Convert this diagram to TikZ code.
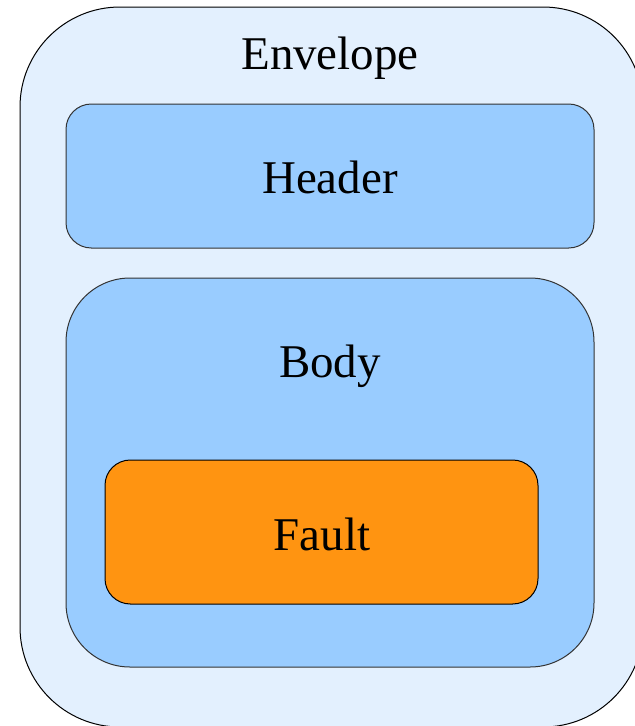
\documentclass[tikz,border=0pt]{standalone}
\usepackage{fontspec}
\setmainfont{Liberation Serif}
\definecolor{envfill}{HTML}{E3F0FE}
\definecolor{partfill}{HTML}{99CCFF}
\definecolor{faultfill}{HTML}{FF9411}
\begin{document}
\begin{tikzpicture}[x=0.75pt,y=-0.75pt,
  box/.style={draw=black,line width=0.75pt},
  lbl/.style={font=\fontsize{35.2}{40}\selectfont,anchor=base,inner sep=0pt}]
\useasboundingbox (0,0) rectangle (635,726);
\clip (0,0) rectangle (635,726);
% envelope
\draw[box,fill=envfill,rounded corners=75pt] (20,7) rectangle (643,727);
\node[lbl] (envelope) at (330,69) {Envelope};
% header
\draw[box,draw=black!80,fill=partfill,rounded corners=19pt] (66,104) rectangle (594,248);
\node[lbl] (header) at (330,193) {Header};
% body
\draw[box,draw=black!80,fill=partfill,rounded corners=48pt] (66,278) rectangle (594,667);
\node[lbl] (body) at (330,377) {Body};
% fault
\draw[box,fill=faultfill,rounded corners=19pt] (105,460) rectangle (538,604);
\node[lbl] (fault) at (322,550) {Fault};
\end{tikzpicture}
\end{document}
